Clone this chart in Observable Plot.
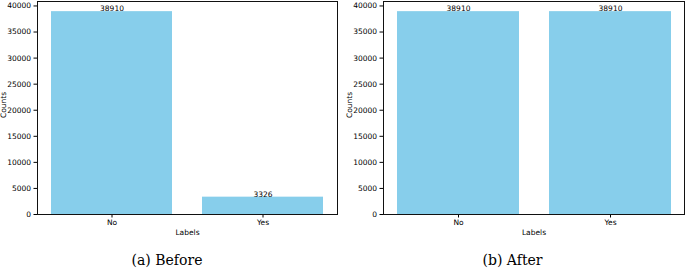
<!DOCTYPE html>
<html>
<head>
<meta charset="utf-8">
<script src="https://cdn.jsdelivr.net/npm/d3@7"></script>
<script src="https://cdn.jsdelivr.net/npm/@observablehq/plot@0.6"></script>
<style>
  html, body { margin: 0; padding: 0; background: #fff; }
  #wrap { position: relative; width: 685px; height: 269px; overflow: hidden; }
  .panel { position: absolute; top: 0; }
  .cap { position: absolute; top: 251px; text-align: center; font-family: "DejaVu Serif", serif; font-size: 14px; line-height: 18px; color: #000; }
</style>
</head>
<body>
<div id="wrap"></div>
<script>
const labels = ["No", "Yes"];
const countsBefore = [38910, 3326];
const countsAfter = [38910, 38910];
const yTicks = [0, 5000, 10000, 15000, 20000, 25000, 30000, 35000, 40000];
const captions = ["(a) Before", "(b) After"];
const yLabel = "Counts";
const xLabel = "Labels";

const wrap = document.getElementById("wrap");

function panel(counts, left, width, marginRight, caption) {
  const data = labels.map((l, i) => ({label: l, count: counts[i]}));
  const chart = Plot.plot({
    width: width,
    height: 240,
    marginLeft: 37,
    marginRight: marginRight,
    marginTop: 1,
    marginBottom: 26,
    style: {fontFamily: "DejaVu Sans", fontSize: "7.5px", color: "#000", background: "white", overflow: "visible"},
    x: {domain: labels, paddingInner: 0.2, paddingOuter: 0.09},
    y: {domain: [0, 38910 * 1.05]},
    marks: [
      Plot.barY(data, {x: "label", y: "count", fill: "#87CEEB"}),
      Plot.text(data, {x: "label", y: "count", text: d => String(d.count), lineAnchor: "bottom", dy: -0.5}),
      Plot.axisY({ticks: yTicks, tickFormat: d => String(d), tickSize: 3.5, tickPadding: 3, label: null}),
      Plot.axisX({tickSize: 3.5, tickPadding: 1.5, label: null}),
      Plot.text([yLabel], {frameAnchor: "left", dx: -33.5, dy: -3, rotate: -90, textAnchor: "middle", text: d => d}),
      Plot.text([xLabel], {frameAnchor: "bottom", dy: 18, lineAnchor: "middle", text: d => d}),
      Plot.frame({stroke: "#111", strokeWidth: 1})
    ]
  });
  const div = document.createElement("div");
  div.className = "panel";
  div.style.left = left + "px";
  div.appendChild(chart);
  wrap.appendChild(div);
  const cap = document.createElement("div");
  cap.className = "cap";
  cap.style.left = (left - 3) + "px";
  cap.style.width = width + "px";
  cap.textContent = caption;
  wrap.appendChild(cap);
}

panel(countsBefore, 0, 340, 3, captions[0]);
panel(countsAfter, 346, 339, 1, captions[1]);
</script>
</body>
</html>
